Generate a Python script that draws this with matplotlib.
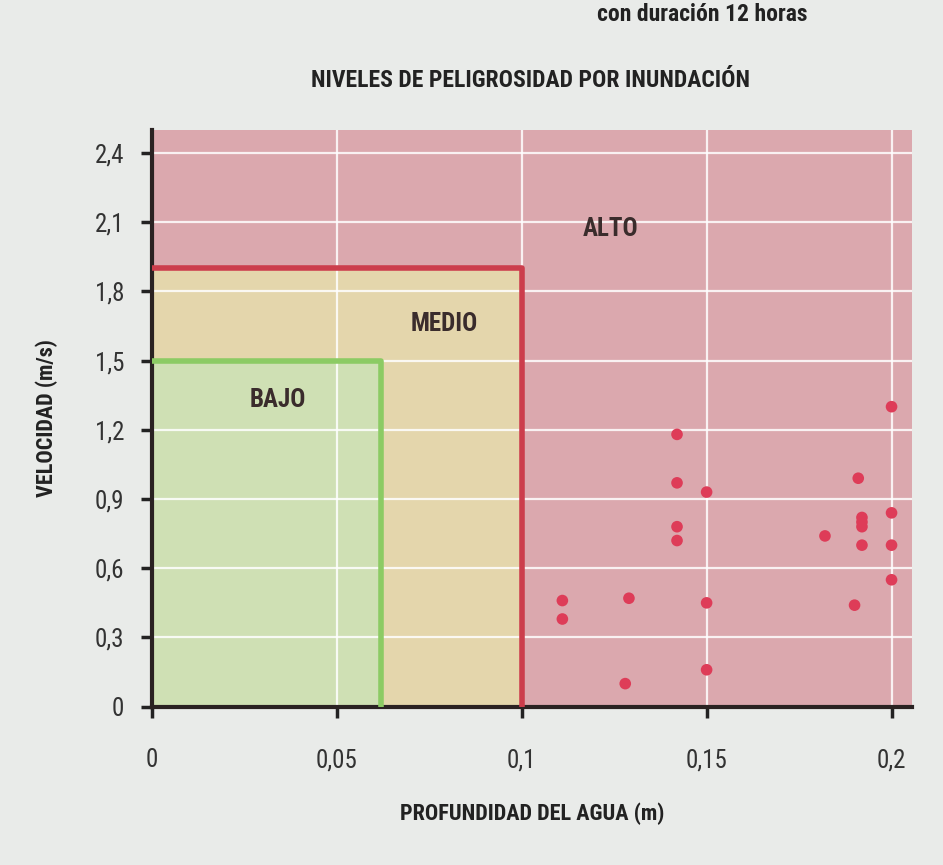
import matplotlib
matplotlib.use("Agg")
import matplotlib.pyplot as plt
from matplotlib.patches import Rectangle
from matplotlib import font_manager as fm

# ---- data ----
depth = [0.111, 0.111, 0.129, 0.128, 0.142, 0.142, 0.142, 0.142, 0.150, 0.150, 0.150,
         0.182, 0.191, 0.192, 0.192, 0.192, 0.192, 0.190, 0.200, 0.200, 0.200, 0.200]
velocity = [0.46, 0.38, 0.47, 0.10, 1.18, 0.97, 0.78, 0.72, 0.93, 0.45, 0.16,
            0.74, 0.99, 0.82, 0.80, 0.78, 0.70, 0.44, 1.30, 0.84, 0.70, 0.55]

zones = ["BAJO", "MEDIO", "ALTO"]
zone_depth = [0.062, 0.100, 0.2055]
zone_vel = [1.50, 1.90, 2.50]

xticks = [0, 0.05, 0.1, 0.15, 0.2]
xtick_labels = ["0", "0,05", "0,1", "0,15", "0,2"]
yticks = [0, 0.3, 0.6, 0.9, 1.2, 1.5, 1.8, 2.1, 2.4]
ytick_labels = ["0", "0,3", "0,6", "0,9", "1,2", "1,5", "1,8", "2,1", "2,4"]

title = "NIVELES DE PELIGROSIDAD POR INUNDACIÓN"
subtitle = "con duración 12 horas"
xlabel = "PROFUNDIDAD DEL AGUA (m)"
ylabel = "VELOCIDAD (m/s)"

# ---- style ----
names = {f.name for f in fm.fontManager.ttflist}
fam = ["DejaVu Sans"]
for cand in ["Liberation Sans Narrow", "Roboto Condensed", "Open Sans Condensed", "DejaVu Sans"]:
    if cand in names:
        fam = [cand, "DejaVu Sans"]
        break
FS = dict(family=fam, fontstretch="condensed")

fill_cols = ["#cfe0b4", "#e4d6ac", "#dba8ae"]
edge_cols = ["#8ccb64", "#cc3d4c", None]
text_pos = [(0.034, 1.33), (0.079, 1.66), (0.124, 2.07)]

fig = plt.figure(figsize=(9.43, 8.65), dpi=100)
fig.patch.set_facecolor("#e9ebe9")
ax = fig.add_axes([0.161, 0.183, 0.806, 0.667])
ax.set_facecolor("#e9ebe9")

for i in [2, 1, 0]:
    ax.add_patch(Rectangle((0, 0), zone_depth[i], zone_vel[i],
                           facecolor=fill_cols[i], edgecolor="none", zorder=1))

for x in xticks[1:]:
    ax.axvline(x, color="white", lw=1.6, alpha=0.85, zorder=2)
for y in yticks[1:]:
    ax.axhline(y, color="white", lw=1.6, alpha=0.85, zorder=2)

for i in [1, 0]:
    ax.plot([0, zone_depth[i], zone_depth[i]], [zone_vel[i], zone_vel[i], 0],
            color=edge_cols[i], lw=4, solid_capstyle="butt", zorder=3)

for name, (tx, ty) in zip(zones, text_pos):
    ax.text(tx, ty, name, fontweight="bold", fontsize=18,
            color="#3a2c2c", ha="center", va="center", zorder=4, **FS)

ax.scatter(depth, velocity, s=70, color="#de3c58", edgecolors="none", zorder=5)

ax.set_xlim(0, 0.2055)
ax.set_ylim(0, 2.5)
ax.set_xticks(xticks)
ax.set_xticklabels(xtick_labels)
ax.set_yticks(yticks)
ax.set_yticklabels(ytick_labels)
ax.tick_params(axis="both", length=8, width=2.5, color="#222222",
               labelsize=18, labelcolor="#333333", direction="out")
ax.tick_params(axis="x", pad=22)
ax.tick_params(axis="y", pad=12)
for t in ax.get_xticklabels() + ax.get_yticklabels():
    t.set_family(fam)
    t.set_fontstretch("condensed")

for s in ["top", "right"]:
    ax.spines[s].set_visible(False)
for s in ["left", "bottom"]:
    ax.spines[s].set_linewidth(3)
    ax.spines[s].set_color("#2a2222")

ax.set_xlabel(xlabel, fontweight="bold", fontsize=16,
              color="#222222", labelpad=22, **FS)
ax.set_ylabel(ylabel, fontweight="bold", fontsize=16,
              color="#222222", labelpad=26, **FS)

fig.text(0.563, 0.907, title, fontweight="bold", fontsize=17,
         color="#222222", ha="center", va="center", **FS)
fig.text(0.745, 0.983, subtitle, fontweight="bold",
         fontsize=17, color="#222222", ha="center", va="center", **FS)

fig.savefig("out.png", dpi=100, facecolor=fig.get_facecolor())
